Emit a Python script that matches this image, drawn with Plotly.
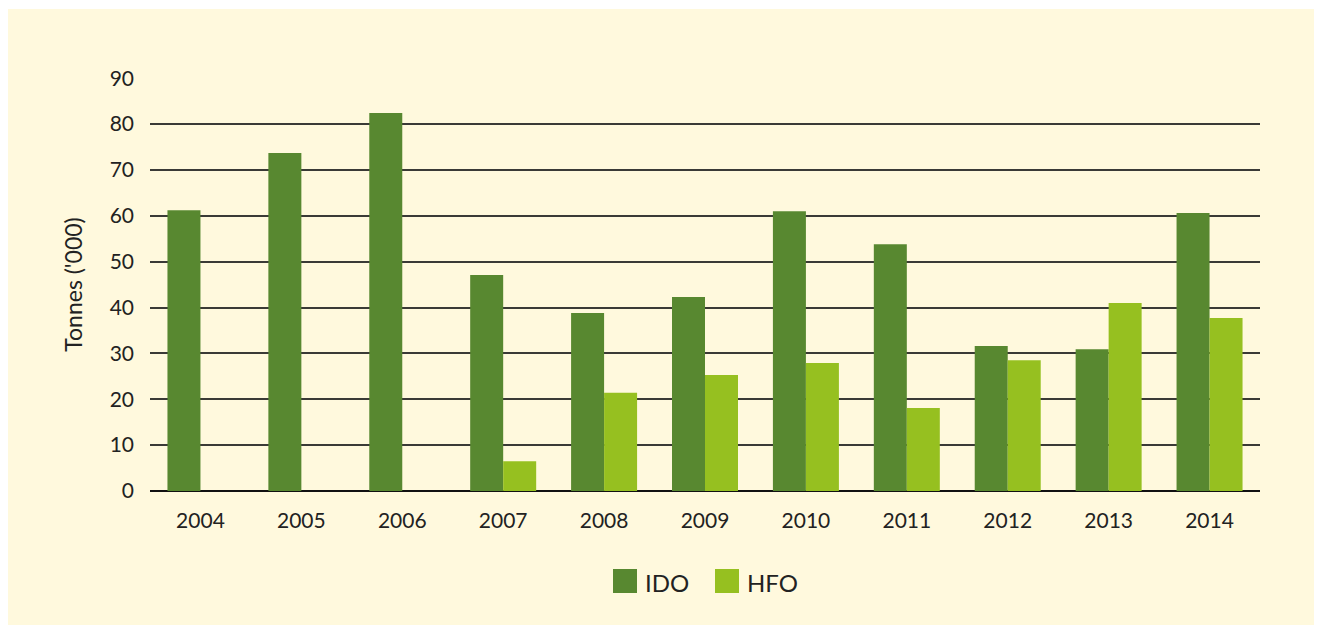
import plotly.graph_objects as go

years = ["2004", "2005", "2006", "2007", "2008", "2009", "2010", "2011", "2012", "2013", "2014"]
ido = [61.2, 73.7, 82.4, 47.1, 38.8, 42.3, 61.0, 53.8, 31.6, 30.9, 60.6]
hfo = [None, None, None, 6.5, 21.4, 25.3, 27.9, 18.1, 28.5, 41.0, 37.7]
y_ticks = [0, 10, 20, 30, 40, 50, 60, 70, 80, 90]
series_names = ["IDO", "HFO"]
series_colors = ["#588830", "#96C020"]

# page has an 8px body margin, so the figure is offset by 8px
OFF = 8
W, H = 1322, 626 - OFF
L, R, T, B = 150 - OFF, 62 + OFF, 78 - OFF, 135
pw, ph = W - L - R, H - T - B

font_family = "Lato, 'Open Sans', sans-serif"
CREAM = "#FFF9DD"


def px_x(p):  # screen px -> paper x
    return (p - OFF - L) / pw


def px_y(p):  # screen px -> paper y
    return (H - B - (p - OFF)) / ph


fig = go.Figure()
for name, vals, col in zip(series_names, [ido, hfo], series_colors):
    fig.add_trace(go.Bar(x=years, y=vals, name=name, marker=dict(color=col, line=dict(width=0))))

# thin white frame lines at top and bottom of the cream panel
fig.add_shape(type="rect", xref="paper", yref="paper",
              x0=px_x(0), x1=px_x(1340), y0=px_y(630), y1=px_y(625),
              fillcolor="white", line=dict(width=0), layer="below")
fig.add_shape(type="rect", xref="paper", yref="paper",
              x0=px_x(0), x1=px_x(1340), y0=px_y(9), y1=px_y(0),
              fillcolor="white", line=dict(width=0), layer="below")

# legend (squares + labels)
leg_x = [613, 715]
for name, col, x0 in zip(series_names, series_colors, leg_x):
    fig.add_shape(type="rect", xref="paper", yref="paper",
                  x0=px_x(x0), x1=px_x(x0 + 24), y0=px_y(593), y1=px_y(569),
                  fillcolor=col, line=dict(width=0))
    fig.add_annotation(xref="paper", yref="paper", x=px_x(x0 + 30), y=px_y(582),
                       text=name, showarrow=False, xanchor="left", yanchor="middle",
                       font=dict(size=24, color="#222", family=font_family))

fig.update_layout(
    width=W, height=H,
    margin=dict(l=L, r=R, t=T, b=B, autoexpand=False),
    paper_bgcolor=CREAM, plot_bgcolor="rgba(0,0,0,0)",
    barmode="group", bargap=0.346, bargroupgap=0,
    font=dict(family=font_family, size=21, color="#222"),
    showlegend=False,
)
fig.update_xaxes(type="category", showgrid=False, showline=False, ticks="",
                 tickfont=dict(size=21), ticklabelstandoff=15)
fig.update_yaxes(range=[0, 90.05], tickvals=y_ticks, showgrid=True, gridcolor="#3a3a36", gridwidth=1.5,
                 zeroline=True, zerolinecolor="#111", zerolinewidth=2, ticks="",
                 tickfont=dict(size=21), ticklabelstandoff=15,
                 title=dict(text="Tonnes ('000)", font=dict(size=23), standoff=20))

fig.write_html("out.html")
